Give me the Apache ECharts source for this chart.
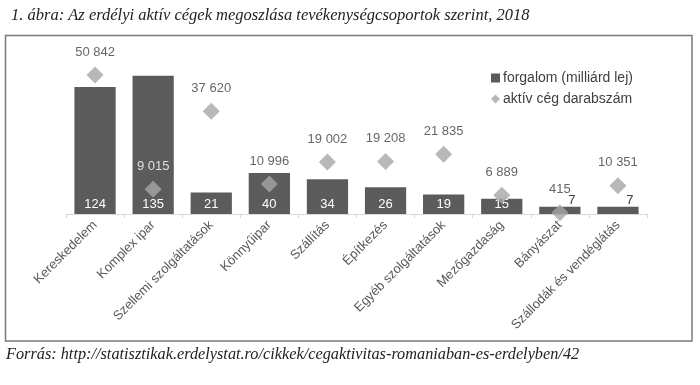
<!DOCTYPE html>
<html>
<head>
<meta charset="utf-8">
<script src="https://cdn.jsdelivr.net/npm/echarts@6/dist/echarts.min.js"></script>
<style>html,body{margin:0;padding:0;background:#fff;}#c{width:700px;height:385px;}</style>
</head>
<body>
<div id="c"></div>
<script>
var categories = ['Kereskedelem','Komplex ipar','Szellemi szolgáltatások','Könnyűipar','Szállítás','Építkezés','Egyéb szolgáltatások','Mezőgazdaság','Bányászat','Szállodák és vendéglátás'];
var forgalom = [124, 135, 21, 40, 34, 26, 19, 15, 7, 7];
var cegSzam = [50842, 9015, 37620, 10996, 19002, 19208, 21835, 6889, 415, 10351];
var seriesNames = ['forgalom (milliárd lej)', 'aktív cég darabszám'];
var titleText = '1. ábra: Az erdélyi aktív cégek megoszlása tevékenységcsoportok szerint, 2018';
var sourceText = 'Forrás: http://statisztikak.erdelystat.ro/cikkek/cegaktivitas-romaniaban-es-erdelyben/42';

var BAR_MAX = 160, CNT_MAX = 60000;

function fmt(v){ return String(v).replace(/\B(?=(\d{3})+(?!\d))/g, ' '); }

var barData = forgalom.map(function(v){
  if (v < 10) {
    return { value: v, label: { position: 'top', distance: 0, offset: [12, 0], color: '#404040' } };
  }
  return v;
});

// label of a diamond that falls on top of a dark bar is drawn white
var cntData = cegSzam.map(function(v, i){
  var labelPos = v / CNT_MAX * BAR_MAX + 22;
  if (labelPos < forgalom[i]) {
    return { value: v, label: { color: '#ffffff' } };
  }
  return v;
});

var chart = echarts.init(document.getElementById('c'), null, {renderer: 'canvas'});
chart.setOption({
  animation: false,
  backgroundColor: '#fff',
  title: {
    text: titleText, left: 6, top: 2,
    textStyle: { fontFamily: 'Liberation Serif', fontStyle: 'italic', fontWeight: 'normal', fontSize: 16.5, color: '#222' }
  },
  graphic: [
    { type: 'rect', shape: { x: 5.5, y: 35.5, width: 686.5, height: 305.5 }, style: { fill: 'none', stroke: '#7a7a7a', lineWidth: 1.5 }, z: -1 },
    { type: 'text', left: 6, top: 347, style: { text: sourceText, font: 'italic 16.3px "Liberation Serif"', fill: '#222' } }
  ],
  legend: {
    orient: 'vertical', left: 486, top: 66, itemGap: 7, itemWidth: 9, itemHeight: 9,
    textStyle: { fontFamily: 'Arial, Liberation Sans', fontSize: 14, color: '#404040', padding: [0, 0, 0, -2] },
    data: [ { name: seriesNames[0], icon: 'rect' }, { name: seriesNames[1], icon: 'diamond' } ]
  },
  grid: { left: 66, right: 53, top: 50, bottom: 171 },
  xAxis: {
    type: 'category', data: categories,
    axisLine: { lineStyle: { color: '#d9d9d9' } },
    axisTick: { show: true, length: 4, lineStyle: { color: '#d9d9d9' } },
    axisLabel: { rotate: 45, interval: 0, fontFamily: 'Arial, Liberation Sans', fontSize: 13, color: '#595959', margin: 9 }
  },
  yAxis: [
    { type: 'value', min: 0, max: BAR_MAX, show: false },
    { type: 'value', min: 0, max: CNT_MAX, show: false }
  ],
  series: [
    {
      name: seriesNames[0], type: 'bar', data: barData, barWidth: '71%',
      itemStyle: { color: '#5b5b5b' },
      label: { show: true, position: 'insideBottom', distance: 3, color: '#fff', fontFamily: 'Arial, Liberation Sans', fontSize: 13 }
    },
    {
      name: seriesNames[1], type: 'scatter', yAxisIndex: 1, data: cntData, symbol: 'diamond', symbolSize: 17,
      itemStyle: { color: '#a6a6a6' },
      label: { show: true, position: 'top', distance: 8, color: '#404040', fontFamily: 'Arial, Liberation Sans', fontSize: 13,
        formatter: function(p){ return fmt(p.value); } },
      z: 3
    }
  ]
});
</script>
</body>
</html>
